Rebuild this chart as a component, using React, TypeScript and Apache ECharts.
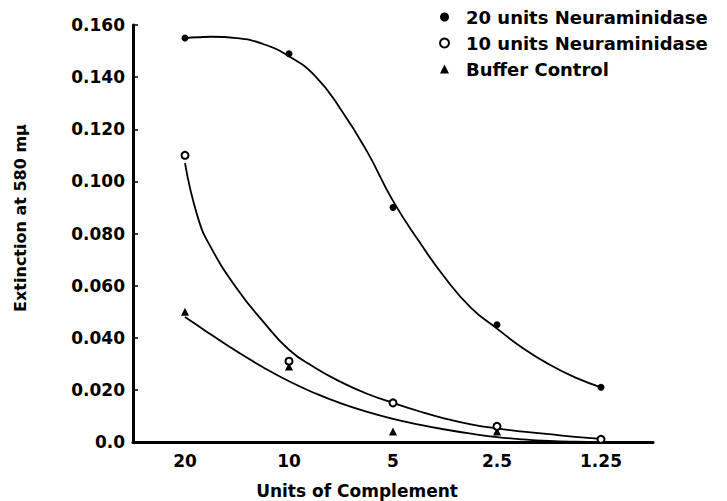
import React, { useEffect, useRef } from "react";
import * as echarts from "echarts";

const categories = ["20", "10", "5", "2.5", "1.25"];
const yMin = 0;
const yMax = 0.16;
const yStep = 0.02;

// measured points
const neur20 = [0.155, 0.149, 0.09, 0.045, 0.021];
const neur10 = [0.11, 0.031, 0.015, 0.006, 0.001];
const bufferCtl = [0.05, 0.029, 0.004, 0.004, 0.001];

// hand-drawn fitted curves, read at category positions (0 = "20" ... 4 = "1.25")
const curvePos = [0, 0.125, 0.25, 0.5, 0.75, 1, 1.25, 1.5, 1.75, 2, 2.25, 2.5, 2.75, 3, 3.25, 3.5, 3.75, 4];
const fit20 = [0.155, 0.1553, 0.1555, 0.155, 0.1527, 0.148, 0.1405, 0.1275, 0.1115, 0.0925, 0.077, 0.063, 0.0515, 0.0435, 0.036, 0.0298, 0.0248, 0.021];
const fit10 = [0.107, 0.086, 0.0746, 0.0588, 0.0463, 0.0354, 0.0285, 0.023, 0.0185, 0.015, 0.0118, 0.009, 0.0068, 0.0052, 0.004, 0.003, 0.002, 0.0012];
const fitBuf = [0.048, 0.0446, 0.0412, 0.0347, 0.0287, 0.0233, 0.0187, 0.0148, 0.0116, 0.0089, 0.0067, 0.0048, 0.0032, 0.0019, 0.001, 0.0004, 0.0001, 0.0];

const seriesNames = ["20 units Neuraminidase", "10 units Neuraminidase", "Buffer Control"];

const FONT = "DejaVu Sans";

export default function App() {
  const ref = useRef<HTMLDivElement>(null);
  useEffect(() => {
    if (!ref.current) return;
    document.body.style.margin = "0";
    const chart = echarts.init(ref.current, null, { renderer: "svg" });
    const curve = (vals: number[]) => curvePos.map((p, i) => [p, vals[i]]);
    const lineSeries = (vals: number[]) => ({
      type: "line",
      xAxisIndex: 1,
      data: curve(vals),
      smooth: 0.5,
      showSymbol: false,
      symbol: "none",
      lineStyle: { color: "#000", width: 1.8 },
      silent: true,
      z: 2,
    });
    chart.setOption({
      animation: false,
      backgroundColor: "#fff",
      grid: { left: 133, right: 74, top: 25, bottom: 59, containLabel: false },
      legend: {
        orient: "vertical",
        left: 434,
        top: 3,
        itemWidth: 9,
        itemHeight: 9,
        itemGap: 8,
        data: seriesNames,
        textStyle: {
          fontFamily: FONT,
          fontSize: 18,
          fontWeight: "bold",
          color: "#000",
          padding: [0, 0, 0, 12],
        },
      },
      xAxis: [
        {
          type: "category",
          data: categories,
          boundaryGap: true,
          axisLine: { onZero: false, lineStyle: { color: "#000", width: 3 } },
          axisTick: { alignWithLabel: true, inside: true, length: 5, lineStyle: { color: "#000", width: 1.5 } },
          axisLabel: { fontFamily: FONT, fontSize: 17, fontWeight: "bold", color: "#000", margin: 10 },
          splitLine: { show: false },
        },
        {
          type: "value",
          min: -0.5,
          max: 4.5,
          show: false,
          splitLine: { show: false },
        },
      ],
      yAxis: {
        type: "value",
        min: yMin,
        max: yMax,
        interval: yStep,
        axisLine: { show: true, onZero: false, lineStyle: { color: "#000", width: 3 } },
        axisTick: { show: true, inside: true, length: 5, lineStyle: { color: "#000", width: 1.5 } },
        axisLabel: {
          fontFamily: FONT,
          fontSize: 17,
          fontWeight: "bold",
          color: "#000",
          margin: 8,
          formatter: (v: number) => (v === 0 ? "0.0" : v.toFixed(3)),
        },
        splitLine: { show: false },
      },
      graphic: [
        {
          type: "text",
          x: 20,
          y: 218,
          rotation: Math.PI / 2,
          style: {
            text: "Extinction at 580 mμ",
            fontFamily: FONT,
            fontSize: 16,
            fontWeight: "bold",
            fill: "#000",
            align: "center",
            verticalAlign: "middle",
          },
        },
        {
          type: "text",
          x: 357,
          y: 491,
          style: {
            text: "Units of Complement",
            fontFamily: FONT,
            fontSize: 17,
            fontWeight: "bold",
            fill: "#000",
            align: "center",
            verticalAlign: "middle",
          },
        },
      ],
      series: [
        lineSeries(fit20),
        lineSeries(fit10),
        lineSeries(fitBuf),
        {
          name: seriesNames[0],
          type: "scatter",
          data: neur20,
          symbol: "circle",
          symbolSize: 7,
          itemStyle: { color: "#000", opacity: 1 },
          z: 5,
        },
        {
          name: seriesNames[1],
          type: "scatter",
          data: neur10,
          symbol: "emptyCircle",
          symbolSize: 7,
          itemStyle: { color: "#000", borderColor: "#000", borderWidth: 2, opacity: 1 },
          z: 6,
        },
        {
          name: seriesNames[2],
          type: "scatter",
          data: bufferCtl,
          symbol: "triangle",
          symbolSize: 8,
          itemStyle: { color: "#000", opacity: 1 },
          z: 5,
        },
      ],
    });
    return () => chart.dispose();
  }, []);
  return <div ref={ref} style={{ width: 727, height: 501 }} />;
}
